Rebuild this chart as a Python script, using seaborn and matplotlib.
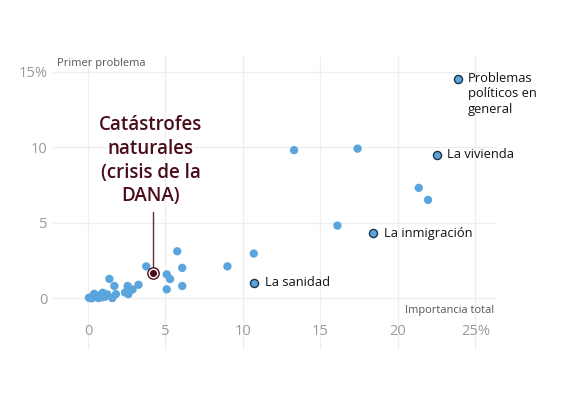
import matplotlib
matplotlib.use("Agg")
import matplotlib.pyplot as plt
import seaborn as sns
import pandas as pd

# ---- data ----
total_other = [13.3, 17.4, 21.35, 21.95, 16.1, 5.76, 10.7, 9.0, 6.08, 3.76,
               5.08, 5.3, 5.08, 6.08, 1.38, 1.7, 2.56, 2.88, 3.26, 2.39,
               2.6, 1.8, 1.57, 1.25, 1.1, 0.95, 0.8, 0.67, 0.5, 0.35,
               0.24, 0.06, 0.9, 0.4]
first_other = [9.8, 9.9, 7.3, 6.5, 4.8, 3.1, 2.95, 2.1, 2.0, 2.1,
               1.57, 1.26, 0.58, 0.8, 1.27, 0.8, 0.8, 0.57, 0.88, 0.37,
               0.26, 0.26, 0.0, 0.24, 0.09, 0.35, 0.2, 0.0, 0.1, 0.2,
               -0.02, 0.02, 0.05, 0.28]

labels = ["Problemas\npolíticos en\ngeneral", "La vivienda", "La inmigración", "La sanidad"]
total_lab = [23.9, 22.5, 18.4, 10.7]
first_lab = [14.5, 9.5, 4.3, 1.0]

dana_label = "Catástrofes\nnaturales\n(crisis de la\nDANA)"
dana_total = [4.2]
dana_first = [1.65]

xticks = [0, 5, 10, 15, 20, 25]
xticklabels = ["0", "5", "10", "15", "20", "25%"]
yticks = [0, 5, 10, 15]
yticklabels = ["0", "5", "10", "15%"]

sns.set_theme(style="white")
plt.rcParams["font.family"] = ["Open Sans", "DejaVu Sans"]

fig = plt.figure(figsize=(5.61, 3.93), dpi=100)
ax = fig.add_axes([53/561, 1-350/393, (497-53)/561, (350-55)/393])

blue = "#5aa5de"
df_o = pd.DataFrame({"x": total_other, "y": first_other})
df_l = pd.DataFrame({"x": total_lab, "y": first_lab})
df_d = pd.DataFrame({"x": dana_total, "y": dana_first})

sns.scatterplot(data=df_o, x="x", y="y", ax=ax, s=36, color=blue,
                edgecolor="none", linewidth=0, zorder=3)
sns.scatterplot(data=df_l, x="x", y="y", ax=ax, s=34, color=blue,
                edgecolor="#1f3346", linewidth=1.0, zorder=4)
sns.scatterplot(data=df_d, x="x", y="y", ax=ax, s=66, color="white",
                edgecolor="#4a0d1c", linewidth=1.0, zorder=5)
sns.scatterplot(data=df_d, x="x", y="y", ax=ax, s=26, color="#4a0d1c",
                edgecolor="#4a0d1c", linewidth=0, zorder=6)

ax.set_xlim(-2.26, 26.4)
ax.set_ylim(-3.44, 16.1)
ax.set_xticks(xticks)
ax.set_xticklabels(xticklabels)
ax.set_yticks(yticks)
ax.set_yticklabels(yticklabels)
ax.set_xlabel("")
ax.set_ylabel("")
ax.tick_params(axis="x", length=0, pad=-19, labelsize=10.5, labelcolor="#9a9a9a")
ax.tick_params(axis="y", length=0, pad=4, labelsize=10.5, labelcolor="#9a9a9a")
for sp in ax.spines.values():
    sp.set_visible(False)
ax.grid(True, color="#eeeeee", linewidth=0.9, zorder=0)
ax.set_axisbelow(True)

# labels for named points
for i, (lab, x, y) in enumerate(zip(labels, total_lab, first_lab)):
    if i == 0:
        ax.text(x + 0.6, y + 0.5, lab, fontsize=9.3, color="#111111",
                ha="left", va="top", linespacing=1.25)
    else:
        ax.text(x + 0.7, y, lab, fontsize=9.3, color="#111111",
                ha="left", va="center")

ax.text(dana_total[0] - 0.15, 9.1, dana_label, fontsize=13.5, color="#4a0d1c",
        fontweight="semibold", ha="center", va="center", linespacing=1.25)
ax.plot([dana_total[0], dana_total[0]], [5.7, dana_first[0] + 0.4],
        color="#6b2a38", linewidth=1.0, zorder=4)

ax.text(-2.0, 15.56, "Primer problema", fontsize=7.9, color="#555555",
        ha="left", va="center")
ax.text(26.2, -0.85, "Importancia total", fontsize=7.9, color="#555555",
        ha="right", va="center")

fig.savefig("out.png", dpi=100)
